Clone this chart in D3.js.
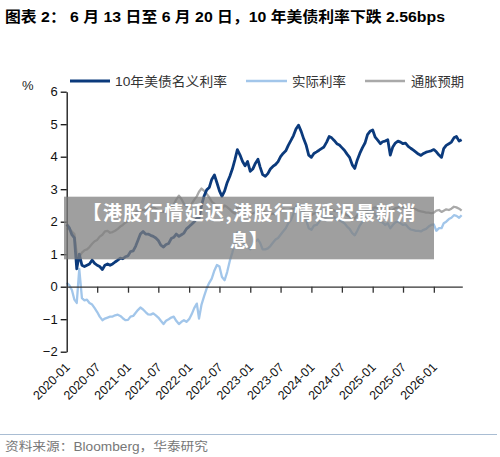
<!DOCTYPE html>
<html><head><meta charset="utf-8">
<script src="https://cdn.jsdelivr.net/npm/d3@7"></script>
<style>body{margin:0;background:#fff} svg{display:block}</style>
</head><body><svg id="c" width="500" height="457"></svg>
<script>
// semi-monthly observations (1st and 16th of each month), Jan 2020 - Jun 2026
const nominal=[1.92,1.82,1.60,1.50,0.55,1.00,0.66,0.62,0.66,0.70,
0.82,0.72,0.66,0.62,0.53,0.66,0.70,0.66,0.70,0.76,
0.82,0.88,0.86,0.92,0.95,1.08,1.10,1.25,1.42,1.62,
1.70,1.62,1.62,1.58,1.55,1.50,1.42,1.28,1.22,1.30,
1.33,1.48,1.52,1.62,1.55,1.60,1.65,1.78,1.85,1.92,
2.00,2.10,2.10,2.50,2.80,2.98,3.05,3.30,3.44,3.20,
2.95,2.78,2.95,3.20,3.40,3.62,3.90,4.22,4.05,3.85,
3.72,3.85,3.55,3.62,3.80,3.92,3.68,3.45,3.40,3.48,
3.62,3.70,3.76,3.85,4.00,4.10,4.18,4.35,4.50,4.65,
4.85,4.97,4.78,4.55,4.35,4.05,3.98,4.10,4.15,4.20,
4.25,4.30,4.45,4.62,4.58,4.50,4.40,4.36,4.28,4.20,
4.08,3.98,3.75,3.64,3.90,4.10,4.28,4.42,4.68,4.78,
4.82,4.60,4.50,4.40,4.46,4.48,4.52,4.05,4.30,4.42,
4.48,4.45,4.40,4.42,4.32,4.26,4.20,4.14,4.08,4.04,
4.10,4.14,4.16,4.18,4.22,4.15,4.05,3.98,4.25,4.35,
4.40,4.45,4.58,4.62,4.48,4.52];
const real=[0.12,0.05,-0.10,-0.40,-0.50,0.55,-0.35,-0.42,-0.40,-0.50,
-0.55,-0.66,-0.78,-0.92,-1.03,-0.98,-0.95,-0.92,-0.92,-0.88,
-0.86,-0.90,-0.97,-1.03,-1.02,-0.92,-0.90,-0.80,-0.72,-0.64,
-0.70,-0.78,-0.85,-0.86,-0.82,-0.88,-0.95,-1.05,-1.15,-1.05,
-1.00,-0.95,-0.92,-1.05,-1.15,-1.08,-1.03,-1.08,-1.00,-0.85,
-0.65,-0.52,-0.98,-0.55,-0.28,-0.05,0.12,0.25,0.50,0.67,
0.62,0.30,0.20,0.45,0.80,1.05,1.35,1.68,1.55,1.40,
1.30,1.25,1.15,1.28,1.40,1.45,1.35,1.15,1.15,1.18,
1.25,1.35,1.45,1.50,1.60,1.70,1.80,1.95,2.05,2.25,
2.45,2.55,2.40,2.20,2.05,1.80,1.75,1.88,1.90,2.00,
2.10,2.12,2.15,2.25,2.22,2.15,2.05,2.05,2.00,1.95,
1.85,1.78,1.65,1.58,1.72,1.88,2.00,2.10,2.25,2.35,
2.40,2.20,2.10,2.00,1.98,1.90,1.95,1.80,1.90,1.98,
2.00,1.95,1.90,1.92,1.82,1.76,1.74,1.72,1.72,1.70,
1.75,1.78,1.85,1.90,1.92,1.72,1.80,1.80,1.95,2.00,
2.08,2.12,2.20,2.18,2.12,2.20];
const breakeven=[1.80,1.77,1.70,1.62,1.00,0.92,1.05,1.12,1.15,1.22,
1.32,1.40,1.44,1.54,1.60,1.70,1.72,1.66,1.68,1.72,
1.78,1.85,1.90,1.97,2.02,2.10,2.20,2.28,2.34,2.36,
2.36,2.34,2.40,2.42,2.45,2.40,2.36,2.32,2.30,2.36,
2.42,2.46,2.52,2.68,2.80,2.70,2.55,2.48,2.46,2.55,
2.68,2.78,2.92,3.02,2.95,2.85,2.75,2.62,2.55,2.42,
2.32,2.40,2.50,2.45,2.38,2.30,2.25,2.45,2.40,2.42,
2.35,2.30,2.22,2.25,2.30,2.42,2.45,2.35,2.28,2.25,
2.22,2.25,2.22,2.28,2.35,2.38,2.36,2.35,2.38,2.40,
2.42,2.44,2.36,2.30,2.25,2.18,2.20,2.25,2.28,2.30,
2.32,2.34,2.36,2.40,2.38,2.34,2.32,2.30,2.28,2.26,
2.20,2.15,2.08,2.10,2.20,2.25,2.30,2.32,2.35,2.40,
2.42,2.44,2.42,2.40,2.42,2.48,2.50,2.30,2.36,2.42,
2.44,2.48,2.45,2.46,2.44,2.42,2.40,2.38,2.34,2.32,
2.30,2.28,2.28,2.26,2.28,2.34,2.36,2.30,2.34,2.38,
2.36,2.40,2.46,2.44,2.40,2.34];
const xTickLabels=["2020-01","2020-07","2021-01","2021-07","2022-01","2022-07","2023-01","2023-07","2024-01","2024-07","2025-01","2025-07","2026-01"];
const yTicks=[-2,-1,0,1,2,3,4,5,6];
const seriesNames=["10年美债名义利率","实际利率","通胀预期"];
const titleText="图表 2：  6 月 13 日至 6 月 20 日，10 年美债利率下跌 2.56bps";
const sourceText="资料来源：Bloomberg，华泰研究";
const overlayLines=["【港股行情延迟,港股行情延迟最新消","息】"];
const unitLabel="%";

const dates=d3.range(nominal.length).map(i=>new Date(2020+Math.floor(i/24),Math.floor(i/2)%12,i%2?16:1));
const colors=["#0b3a7c","#a2c6ea","#a9a9a9"];
const widths=[2.8,2.3,2.3];
const svg=d3.select("#c");
const L=66.7,R=462.3,T=91.7,B=351.7;
const x=d3.scaleTime().domain([new Date(2020,0,1),new Date(2026,5,20)]).range([L,R]);
const y=d3.scaleLinear().domain([-2,6]).range([B,T]);
const latin='"Liberation Sans", Arial, "Noto Sans CJK SC", sans-serif';

// title
svg.append("text").attr("x",5).attr("y",22).attr("font-family",latin).attr("font-weight","bold")
 .attr("font-size",15).attr("fill","#000").attr("textLength",440).attr("lengthAdjust","spacingAndGlyphs").text(titleText);

// legend
const legX=[[70,110,115,112],[246,287,292,54],[365,405,411,53]];
seriesNames.forEach((n,i)=>{
  svg.append("line").attr("x1",legX[i][0]).attr("x2",legX[i][1]).attr("y1",81).attr("y2",81)
   .attr("stroke",colors[i]).attr("stroke-width",widths[i]);
  svg.append("text").attr("x",legX[i][2]).attr("y",86).attr("font-family",latin).attr("font-size",13)
   .attr("fill","#333").attr("textLength",legX[i][3]).attr("lengthAdjust","spacingAndGlyphs").text(n);
});
svg.append("text").attr("x",22).attr("y",90).attr("font-family",latin).attr("font-size",13).attr("fill","#222").text(unitLabel);

// lines
const line=d3.line().x((d,i)=>x(dates[i])).y(d=>y(d));
[[breakeven,2],[real,1],[nominal,0]].forEach(([s,ci])=>{
  svg.append("path").datum(s).attr("d",line).attr("fill","none").attr("stroke",colors[ci])
   .attr("stroke-width",widths[ci]).attr("stroke-linejoin","round");
});

// y axis
const ya=svg.append("g").attr("transform",`translate(${L},0)`)
 .call(d3.axisLeft(y).tickValues(yTicks).tickSize(6).tickSizeOuter(0).tickPadding(3).tickFormat(d3.format("d")));
ya.selectAll("text").attr("font-family",latin).attr("font-size",13).attr("fill","#111");
ya.selectAll("line,path").attr("stroke","#111").attr("stroke-width",1.3);

// x axis at 0
const tickDates=xTickLabels.map(s=>d3.timeParse("%Y-%m")(s));
const xa=svg.append("g").attr("transform",`translate(0,${y(0)})`)
 .call(d3.axisBottom(x).tickValues(tickDates.slice(1)).tickSize(6).tickSizeOuter(0).tickFormat(""));
xa.selectAll("line,path").attr("stroke","#333").attr("stroke-width",1.3);

// x labels
svg.append("g").selectAll("text").data(tickDates).join("text")
 .attr("transform",d=>`translate(${x(d)+4},368) rotate(-45)`).attr("text-anchor","end")
 .attr("font-family",latin).attr("font-size",12.5).attr("fill","#111")
 .text((d,i)=>xTickLabels[i]);

// footer
svg.append("line").attr("x1",0).attr("x2",497).attr("y1",434.5).attr("y2",434.5).attr("stroke","#a9bdd3").attr("stroke-width",1);
svg.append("text").attr("x",5).attr("y",451).attr("font-family",latin).attr("font-size",12).attr("fill","#777")
 .attr("textLength",203).attr("lengthAdjust","spacingAndGlyphs").text(sourceText);

// overlay (wrapped onto two lines)
svg.append("rect").attr("x",64).attr("y",196.7).attr("width",370).attr("height",62.6).attr("fill","#7f7f7f").attr("fill-opacity",0.75);
overlayLines.forEach((t,i)=>{
  const tx=svg.append("text").attr("x",249).attr("y",220+i*28).attr("text-anchor","middle")
   .attr("font-family",'"Noto Sans CJK SC", sans-serif').attr("font-weight","bold").attr("font-size",19)
   .attr("fill","#fff").text(t);
  if(i===0) tx.attr("textLength",333).attr("lengthAdjust","spacing");
});
</script></body></html>
